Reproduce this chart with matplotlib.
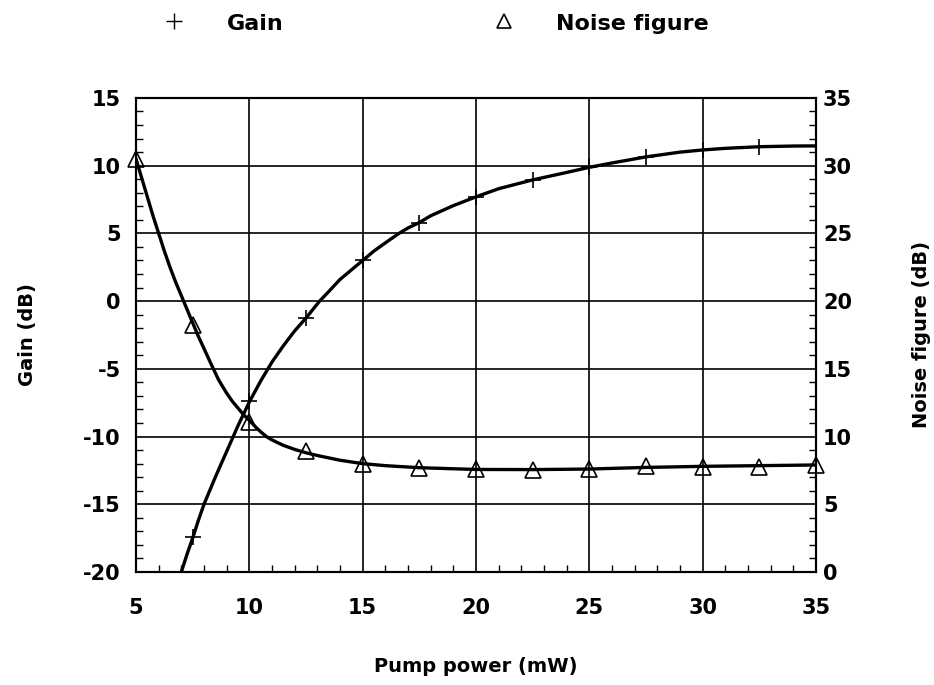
import numpy as np
import matplotlib
matplotlib.use("Agg")
import matplotlib.pyplot as plt
from matplotlib.lines import Line2D
from matplotlib.ticker import MultipleLocator

plt.rcParams["font.family"] = ["DejaVu Sans"]
plt.rcParams["font.weight"] = "bold"
plt.rcParams["axes.unicode_minus"] = False

# Measured points (markers)
gain_x = [7.5, 10, 12.5, 15, 17.5, 20, 22.5, 25, 27.5, 30, 32.5]
gain_db = [-17.4, -7.35, -1.25, 3.0, 5.8, 7.7, 8.95, 9.9, 10.65, 11.15, 11.4]

noise_x = [5, 7.5, 10, 12.5, 15, 17.5, 20, 22.5, 25, 27.5, 30, 32.5, 35]
noise_db = [30.5, 18.2, 11.1, 8.9, 8.0, 7.7, 7.6, 7.55, 7.6, 7.8, 7.75, 7.75, 7.9]

# Fitted curves
gain_fit_x = [7.0, 7.25, 7.5, 7.75, 8.0, 8.5, 9.0, 9.5, 10.0, 10.5, 11.0, 11.5,
              12.0, 12.5, 13.1, 13.5, 14.0, 14.5, 15.0, 15.5, 16.0, 16.6, 17.0,
              17.5, 18.0, 19.0, 20.0, 21.0, 22.5, 24.0, 25.0, 26.0, 27.5, 29.0,
              30.0, 31.0, 32.5, 34.0, 35.0]
gain_fit_db = [-20.0, -18.7, -17.5, -16.2, -15.0, -13.0, -11.1, -9.2, -7.45, -5.9,
               -4.5, -3.3, -2.2, -1.25, 0.0, 0.7, 1.6, 2.3, 3.0, 3.7, 4.3, 5.0, 5.4,
               5.8, 6.3, 7.05, 7.7, 8.3, 8.95, 9.5, 9.88, 10.2, 10.65, 11.0,
               11.16, 11.28, 11.4, 11.45, 11.46]

noise_fit_x = [5.0, 5.25, 5.5, 5.75, 6.0, 6.25, 6.5, 6.75, 7.1, 7.5, 7.75, 8.0,
               8.3, 8.64, 9.0, 9.25, 9.5, 9.75, 10.0, 10.25, 10.5, 10.75, 11.0,
               11.5, 12.0, 12.5, 13.0, 14.0, 15.0, 16.0, 17.5, 19.0, 20.0, 22.5,
               25.0, 27.5, 30.0, 32.5, 35.0]
noise_fit_db = [30.5, 29.1, 27.7, 26.3, 25.0, 23.7, 22.5, 21.4, 20.0, 18.4, 17.4,
                16.5, 15.4, 14.2, 13.2, 12.6, 12.1, 11.6, 11.2, 10.75, 10.35, 10.0,
                9.75, 9.35, 9.05, 8.8, 8.6, 8.25, 8.0, 7.85, 7.7, 7.62, 7.57, 7.56,
                7.6, 7.72, 7.8, 7.85, 7.9]

fig = plt.figure(figsize=(9.34, 6.85), dpi=100)
ax = fig.add_axes([0.1456, 0.165, 0.7281, 0.692])
ax2 = ax.twinx()

ax.set_xlim(5, 35)
ax.set_ylim(-20, 15)
ax2.set_ylim(0, 35)

ax.xaxis.set_major_locator(MultipleLocator(5))
ax.xaxis.set_minor_locator(MultipleLocator(1))
ax.yaxis.set_major_locator(MultipleLocator(5))
ax.yaxis.set_minor_locator(MultipleLocator(1))
ax2.yaxis.set_major_locator(MultipleLocator(5))
ax2.yaxis.set_minor_locator(MultipleLocator(1))

ax.grid(True, which="major", color="black", linewidth=1.2)
ax.tick_params(which="both", direction="in", labelsize=15, width=1.0)
ax.tick_params(which="major", length=0)
ax.tick_params(axis="y", which="major", pad=11)
ax.tick_params(axis="x", which="major", pad=19)
ax.tick_params(which="minor", length=5)
ax2.tick_params(which="both", direction="in", labelsize=15, width=1.0)
ax2.tick_params(which="major", length=0, pad=5)
ax2.tick_params(which="minor", length=5)

for a in (ax, ax2):
    for s in a.spines.values():
        s.set_linewidth(1.5)

ax.plot(gain_fit_x, gain_fit_db, color="black", linewidth=2.4,
        solid_joinstyle="round")
ax.plot(gain_x, gain_db, linestyle="none", marker="+", markersize=12,
        markeredgewidth=1.2, color="black")
ax2.plot(noise_fit_x, noise_fit_db, color="black", linewidth=2.4,
         solid_joinstyle="round")
ax2.plot(noise_x, noise_db, linestyle="none", marker="^", markersize=11,
         markerfacecolor="none", markeredgecolor="black", markeredgewidth=1.2,
         clip_on=False)

ax.set_xlabel("Pump power (mW)", fontsize=14, fontweight="bold", labelpad=28)
ax.set_ylabel("Gain (dB)", fontsize=14, fontweight="bold", labelpad=33)
ax2.set_ylabel("Noise figure (dB)", fontsize=14, fontweight="bold",
               rotation=90, labelpad=43)

# Legend row at the top
fig.add_artist(Line2D([174 / 934], [1 - 21 / 685], marker="+", markersize=12,
                      markeredgewidth=1.0, color="black", linestyle="none"))
fig.text(227 / 934, 1 - 24 / 685, "Gain", fontsize=16, fontweight="bold",
         va="center", ha="left")
fig.add_artist(Line2D([504 / 934], [1 - 21 / 685], marker="^", markersize=10,
                      markerfacecolor="none", markeredgecolor="black",
                      markeredgewidth=1.2, linestyle="none"))
fig.text(556 / 934, 1 - 24 / 685, "Noise figure", fontsize=16, fontweight="bold",
         va="center", ha="left")

fig.savefig("out.png", dpi=100)
